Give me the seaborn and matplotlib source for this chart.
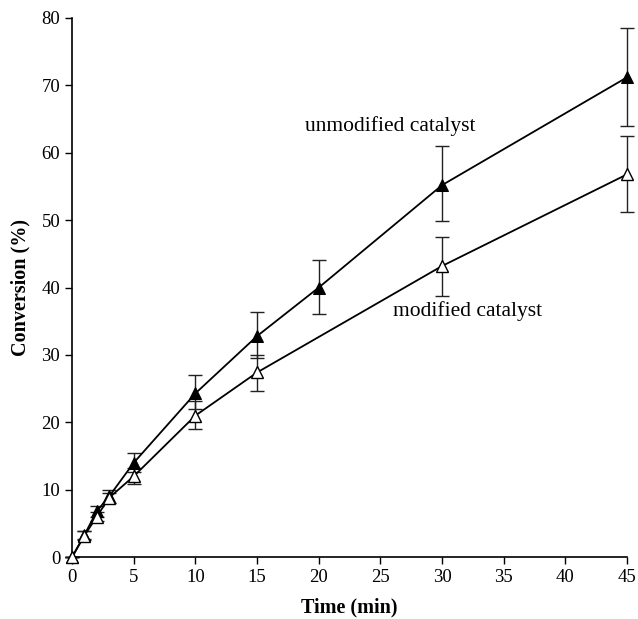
import matplotlib
matplotlib.use("Agg")
import matplotlib.pyplot as plt
import seaborn as sns
import pandas as pd
import numpy as np

sns.set_theme(style="white")
plt.rcParams['font.family'] = ['Liberation Serif', 'DejaVu Serif']
plt.rcParams['text.color'] = 'black'
plt.rcParams['axes.labelcolor'] = 'black'

time_unmod = [0, 1, 2, 3, 5, 10, 15, 20, 30, 45]
conv_unmod = [0, 3.3, 6.8, 9.0, 14.0, 24.3, 32.8, 40.0, 55.2, 71.2]
err_lo_unmod = [0, 0.6, 0.8, 1.0, 1.4, 2.3, 3.3, 4.0, 5.4, 7.2]
err_hi_unmod = [0, 0.6, 0.8, 1.0, 1.4, 2.7, 3.5, 4.1, 5.8, 7.3]

time_mod = [0, 1, 2, 3, 5, 10, 15, 30, 45]
conv_mod = [0, 3.2, 6.0, 8.8, 12.0, 21.0, 27.4, 43.2, 56.8]
err_lo_mod = [0, 0.7, 0.7, 0.7, 1.2, 2.0, 2.8, 4.4, 5.6]
err_hi_mod = [0, 0.7, 0.7, 0.7, 1.2, 2.2, 2.6, 4.3, 5.7]

label_unmod = "unmodified catalyst"
label_mod = "modified catalyst"

df_u = pd.DataFrame({"Time": time_unmod, "Conversion": conv_unmod})
df_m = pd.DataFrame({"Time": time_mod, "Conversion": conv_mod})

fig = plt.figure(figsize=(6.38, 6.19), dpi=100)
ax = fig.add_axes([0.113, 0.1, 0.870, 0.871])

for t, c, lo, hi in [(time_unmod, conv_unmod, err_lo_unmod, err_hi_unmod),
                     (time_mod, conv_mod, err_lo_mod, err_hi_mod)]:
    eb = ax.errorbar(t, c, yerr=[lo, hi], fmt='none',
                     ecolor='#222222', elinewidth=1.0, capsize=5, capthick=1.0, zorder=2)
    for art in eb.lines[1] + eb.lines[2]:
        art.set_clip_on(False)
    for art in eb.lines[2]:
        art.set_clip_on(False)

sns.lineplot(data=df_u, x="Time", y="Conversion", ax=ax, color='black', lw=1.3,
             marker='^', markersize=8, markerfacecolor='black', markeredgecolor='black',
             zorder=3, clip_on=False)
sns.lineplot(data=df_m, x="Time", y="Conversion", ax=ax, color='black', lw=1.3,
             marker='^', markersize=8, markerfacecolor='white', markeredgecolor='black',
             markeredgewidth=1.0, zorder=4, clip_on=False)

ax.text(18.9, 64, label_unmod, fontsize=15.5, ha='left', va='center', color='black')
ax.text(26.0, 36.5, label_mod, fontsize=15.5, ha='left', va='center', color='black')

ax.set_xlim(0, 45)
ax.set_ylim(0, 80)
ax.set_xticks(range(0, 46, 5))
ax.set_yticks(range(0, 81, 10))
ax.tick_params(axis='both', labelsize=13.5, direction='out', length=5, width=1, colors='black',
               bottom=True, left=True)
ax.set_xlabel("Time (min)", fontsize=14.5, fontweight='bold', labelpad=8)
ax.set_ylabel("Conversion (%)", fontsize=14.5, fontweight='bold', labelpad=8)
for s in ['top', 'right']:
    ax.spines[s].set_visible(False)
for s in ['left', 'bottom']:
    ax.spines[s].set_color('black')
    ax.spines[s].set_linewidth(1.2)
ax.grid(False)

fig.savefig("out.png", dpi=100)
